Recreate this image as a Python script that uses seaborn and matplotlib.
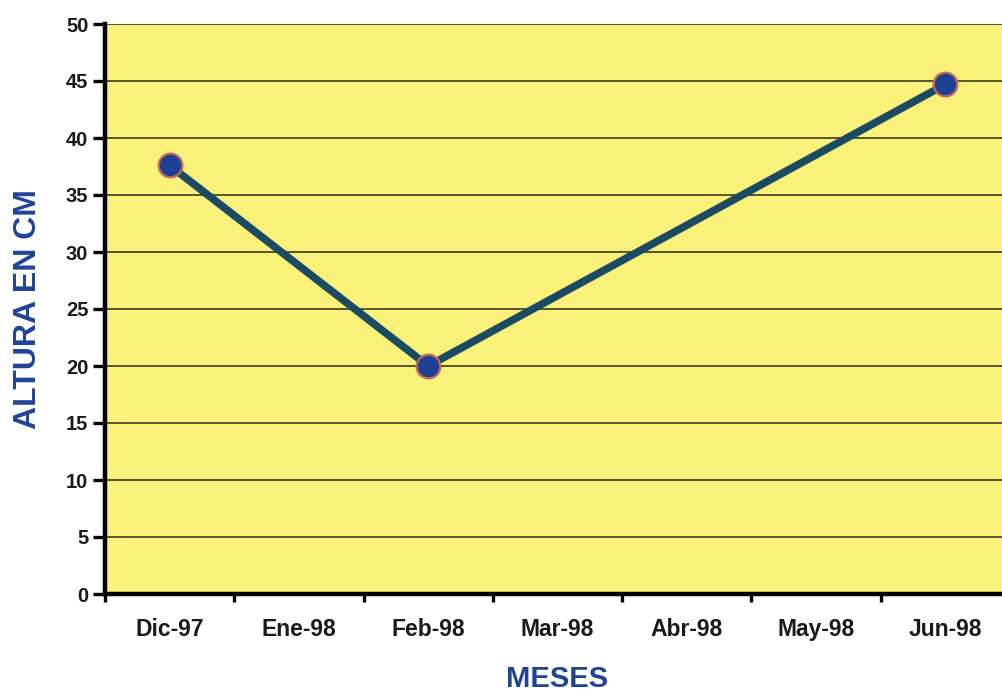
import numpy as np
import pandas as pd
import matplotlib
matplotlib.use("Agg")
import matplotlib.pyplot as plt
import seaborn as sns

# Monthly categories on the x axis
months = ["Dic-97", "Ene-98", "Feb-98", "Mar-98", "Abr-98", "May-98", "Jun-98"]
# Months with a measurement and the measured height (cm)
measured_months = ["Dic-97", "Feb-98", "Jun-98"]
heights = [37.6, 20.0, 44.7]
y_ticks = [0, 5, 10, 15, 20, 25, 30, 35, 40, 45, 50]

df = pd.DataFrame({
    "pos": [months.index(m) for m in measured_months],
    "altura": heights,
})

sns.set_theme(style="white")
plt.rcParams["font.family"] = ["Liberation Sans", "DejaVu Sans"]
plt.rcParams["font.weight"] = "bold"

fig = plt.figure(figsize=(10.02, 6.96), dpi=100)
fig.patch.set_facecolor("white")
ax = fig.add_axes([105 / 1002, (696 - 594) / 696, 905 / 1002, 570 / 696])
ax.set_facecolor("#FAF17A")

sns.lineplot(data=df, x="pos", y="altura", ax=ax, color="#1B4A63", linewidth=5.5,
             marker="o", markersize=17, markerfacecolor="#1D3F94",
             markeredgecolor="#C4665C", markeredgewidth=1.6, zorder=5)

ax.set_xlim(-0.5, len(months) - 0.5)
ax.set_ylim(0, 50)
ax.set_yticks(y_ticks)
ax.set_yticklabels([str(v) for v in y_ticks], fontsize=14.5, fontweight="bold", color="#1a1a1a")

# gridlines at each y tick
for v in y_ticks[1:]:
    ax.axhline(v, color="#2b2b12", linewidth=1.1, zorder=1)

# category labels centred, tick marks on category boundaries
ax.set_xticks(np.arange(len(months)))
ax.set_xticklabels(months, fontsize=16.5, fontweight="bold", color="#1a1a1a")
ax.set_xticks(np.arange(len(months) + 1) - 0.5, minor=True)
ax.tick_params(axis="x", which="major", length=0, pad=17.5)
ax.tick_params(axis="x", which="minor", direction="out", length=6, width=2.4, color="black", bottom=True)
ax.tick_params(axis="y", which="major", direction="out", length=9, width=2.4, color="black", pad=3, left=True)

for side in ["top", "right"]:
    ax.spines[side].set_visible(False)
for side in ["left", "bottom"]:
    ax.spines[side].set_color("black")
    ax.spines[side].set_linewidth(3.2)
    ax.spines[side].set_zorder(6)

ax.set_xlabel("MESES", fontsize=21, fontweight="bold", color="#1F4496")
ax.set_ylabel("ALTURA EN CM", fontsize=23, fontweight="bold", color="#1F4496")
ax.xaxis.set_label_coords(0.5, -0.125)
ax.yaxis.set_label_coords(-0.068, 0.5)

fig.savefig("out.png", dpi=100, facecolor="white")
